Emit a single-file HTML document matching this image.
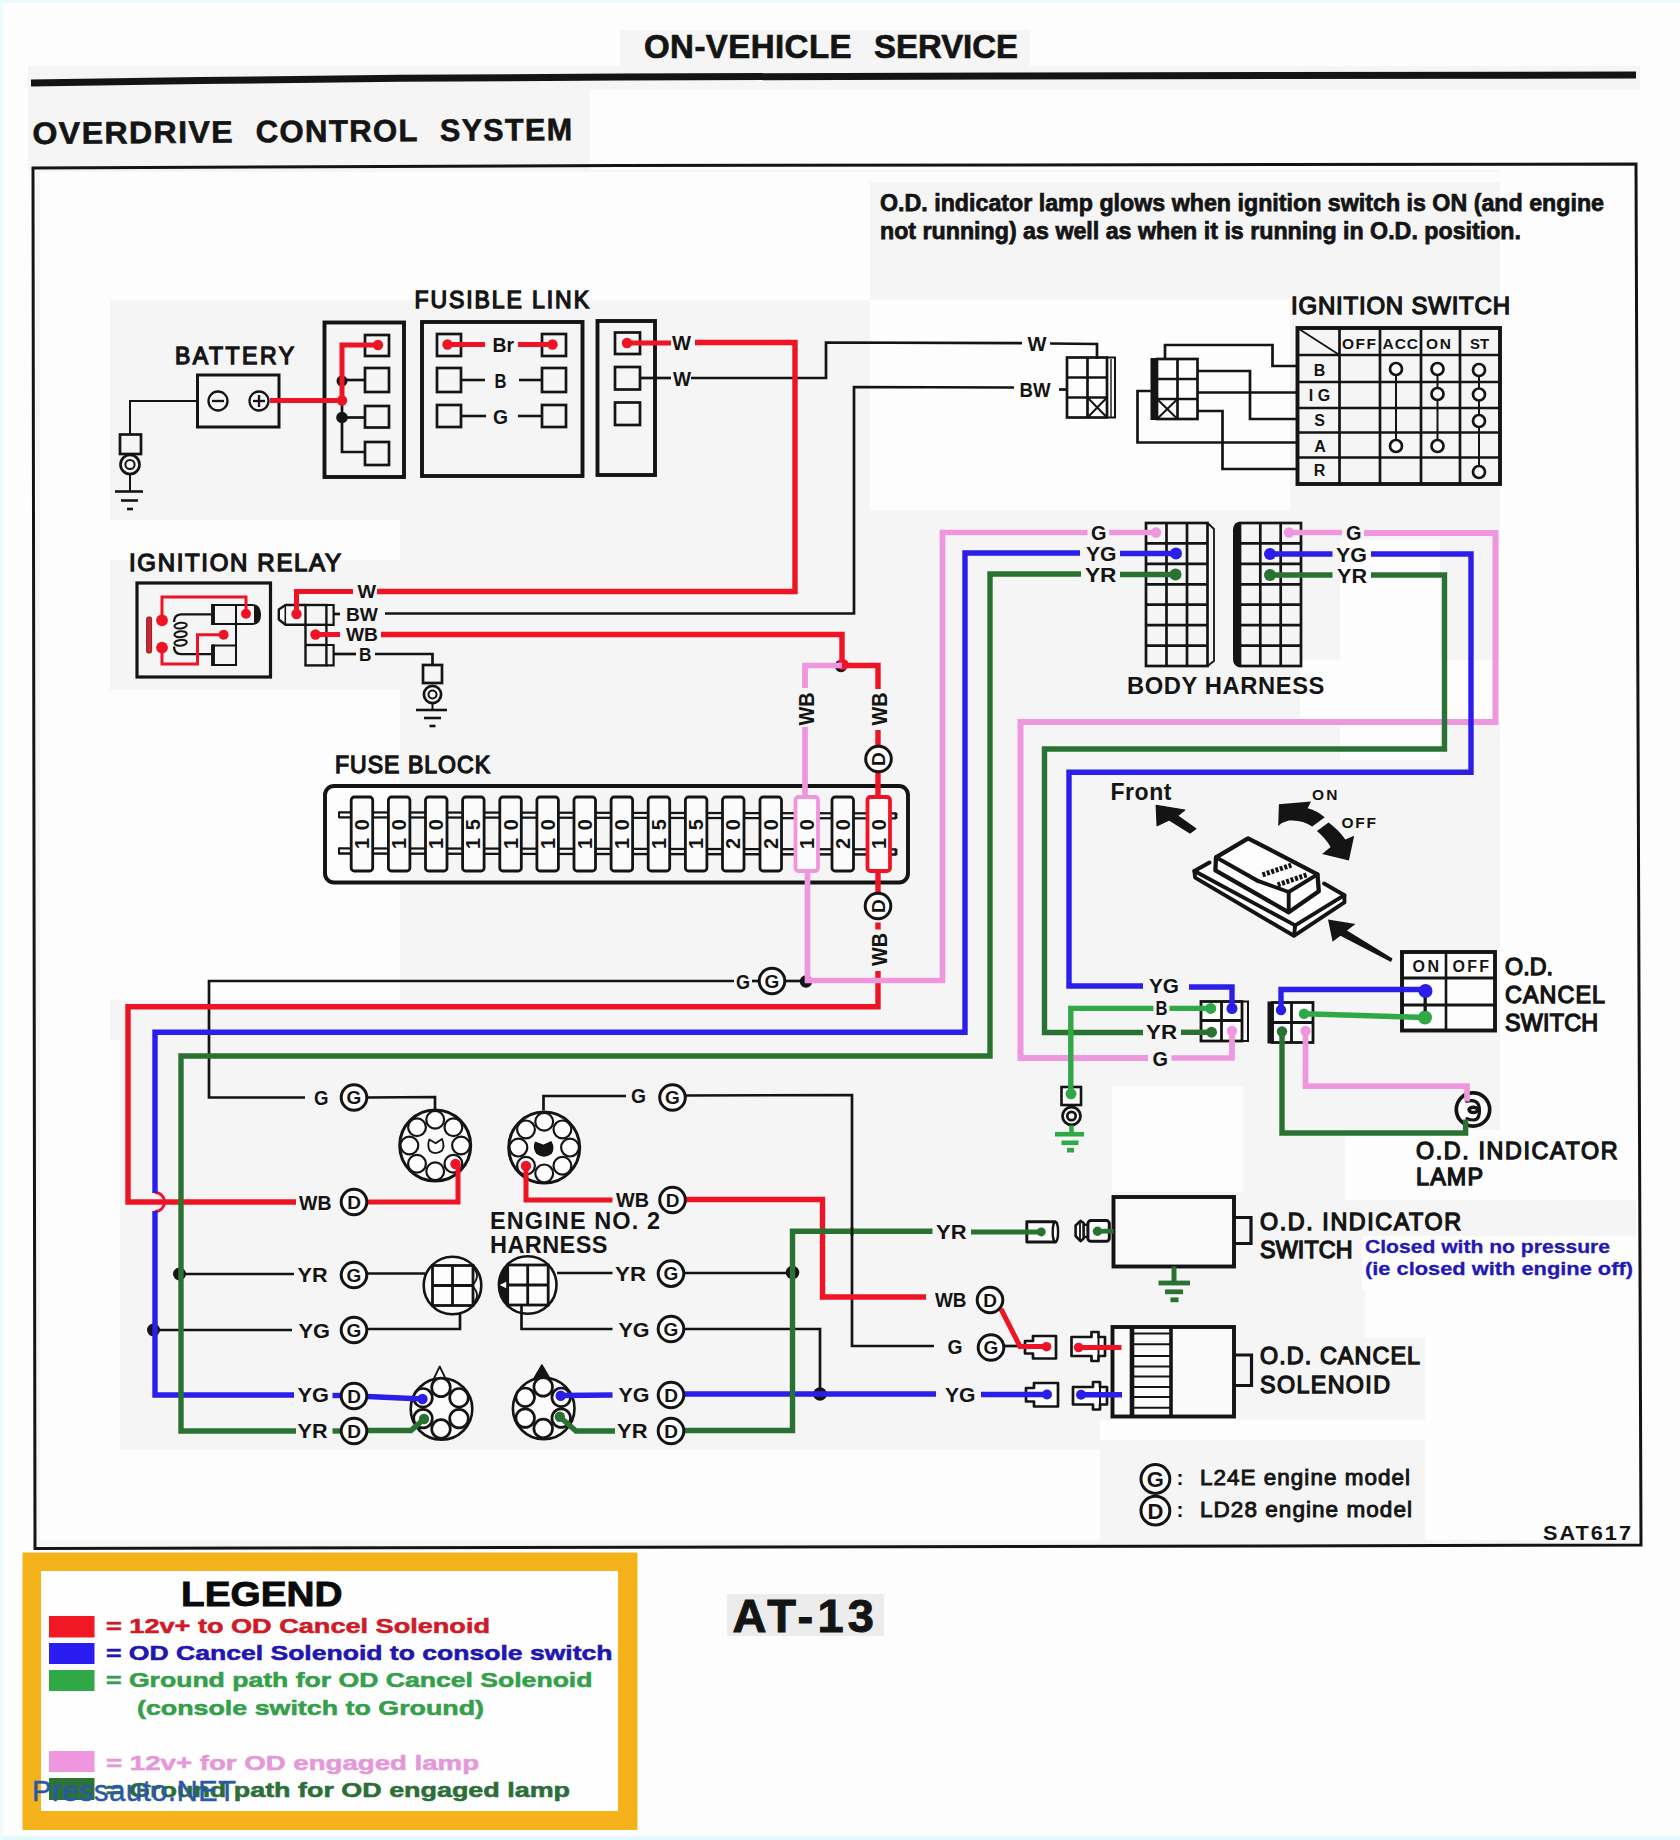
<!DOCTYPE html>
<html><head><meta charset="utf-8"><title>Overdrive Control System</title>
<style>
html,body{margin:0;padding:0;background:#fdfdfd;}
body{width:1680px;height:1840px;overflow:hidden;font-family:"Liberation Sans",sans-serif;}
svg{display:block;font-family:"Liberation Sans",sans-serif;}
</style></head><body>
<svg width="1680" height="1840" viewBox="0 0 1680 1840">
<rect x="0" y="0" width="1680" height="1840" fill="#fdfdfd"/>
<rect x="28" y="66" width="562" height="104" fill="#f5f5f5"/>
<rect x="590" y="66" width="1050" height="24" fill="#f5f5f5"/>
<rect x="620" y="30" width="410" height="36" fill="#f5f5f5"/>
<rect x="36" y="170" width="1600" height="1376" fill="#f5f5f5"/>
<rect x="40" y="172" width="830" height="128" fill="#fdfdfd"/>
<rect x="870" y="172" width="766" height="10" fill="#fdfdfd"/>
<rect x="40" y="300" width="70" height="1240" fill="#fdfdfd"/>
<rect x="110" y="520" width="290" height="40" fill="#fdfdfd"/>
<rect x="110" y="690" width="290" height="310" fill="#fdfdfd"/>
<rect x="870" y="300" width="420" height="210" fill="#fdfdfd"/>
<rect x="1300" y="660" width="200" height="60" fill="#fdfdfd"/>
<rect x="1340" y="540" width="100" height="220" fill="#fdfdfd"/>
<rect x="1345" y="1130" width="291" height="70" fill="#fdfdfd"/>
<rect x="1112" y="1086" width="131" height="106" fill="#fdfdfd"/>
<rect x="1425" y="1290" width="211" height="250" fill="#fdfdfd"/>
<rect x="1362" y="1236" width="274" height="54" fill="#fdfdfd"/>
<rect x="1365" y="1290" width="60" height="48" fill="#fdfdfd"/>
<rect x="1100" y="1420" width="536" height="20" fill="#fdfdfd"/>
<rect x="40" y="1450" width="1060" height="90" fill="#fdfdfd"/>
<rect x="40" y="1040" width="80" height="500" fill="#fdfdfd"/>
<rect x="1500" y="170" width="136" height="960" fill="#fdfdfd"/>
<rect x="0" y="0" width="1680" height="3" fill="#e9fbfd"/>
<rect x="0" y="1836" width="1680" height="4" fill="#e2fafd"/>
<rect x="0" y="0" width="3" height="1840" fill="#ecfbfd"/>
<text x="644.0" y="58.0" font-size="33" fill="#141414" font-weight="bold" textLength="207.5" lengthAdjust="spacing" stroke="#141414" stroke-width="0.7">ON-VEHICLE</text>
<text x="874.0" y="58.0" font-size="33" fill="#141414" font-weight="bold" textLength="144.0" lengthAdjust="spacingAndGlyphs" stroke="#141414" stroke-width="0.7">SERVICE</text>
<polyline points="31.0,83.0 200.0,80.5 400.0,78.3 620.0,77.0 1000.0,76.0 1636.0,75.0" fill="none" stroke="#141414" stroke-width="7" stroke-linecap="butt" stroke-linejoin="miter" />
<g transform="rotate(-0.42 32 144)">
<text x="32.5" y="144.0" font-size="31" fill="#141414" font-weight="bold" textLength="201.5" lengthAdjust="spacingAndGlyphs" letter-spacing="1.3" stroke="#141414" stroke-width="0.6">OVERDRIVE</text>
<text x="255.7" y="144.0" font-size="31" fill="#141414" font-weight="bold" textLength="163.3" lengthAdjust="spacingAndGlyphs" letter-spacing="1.3" stroke="#141414" stroke-width="0.6">CONTROL</text>
<text x="440.0" y="144.0" font-size="31" fill="#141414" font-weight="bold" textLength="133.5" lengthAdjust="spacingAndGlyphs" letter-spacing="1.3" stroke="#141414" stroke-width="0.6">SYSTEM</text>
</g>
<polygon points="33,168 620,165.5 1636,164 1641,1545 1020,1546.5 35,1548.5" fill="none" stroke="#141414" stroke-width="3"/>
<text x="880.0" y="211.3" font-size="24" fill="#141414" font-weight="bold" textLength="724.0" lengthAdjust="spacingAndGlyphs" stroke="#141414" stroke-width="0.75">O.D. indicator lamp glows when ignition switch is ON (and engine</text>
<text x="880.0" y="239.0" font-size="24" fill="#141414" font-weight="bold" textLength="641.0" lengthAdjust="spacingAndGlyphs" stroke="#141414" stroke-width="0.75">not running) as well as when it is running in O.D. position.</text>
<rect x="727" y="1594" width="157" height="42" fill="#ececec"/>
<text x="732.5" y="1632.0" font-size="47" fill="#141414" font-weight="bold" textLength="141.5" lengthAdjust="spacing" stroke="#141414" stroke-width="1.0">AT-13</text>
<text x="175.0" y="363.5" font-size="23" fill="#141414" textLength="119.0" lengthAdjust="spacing" stroke="#141414" stroke-width="1.3">BATTERY</text>
<rect x="197.5" y="375.0" width="81.5" height="52.0" rx="0" fill="none" stroke="#141414" stroke-width="3"/>
<circle cx="218.0" cy="401.0" r="9.5" fill="none" stroke="#141414" stroke-width="2.3"/>
<line x1="212.0" y1="401.0" x2="224.0" y2="401.0" stroke="#141414" stroke-width="2.3" stroke-linecap="butt"/>
<circle cx="259.0" cy="401.0" r="9.5" fill="none" stroke="#141414" stroke-width="2.3"/>
<line x1="253.0" y1="401.0" x2="265.0" y2="401.0" stroke="#141414" stroke-width="2.3" stroke-linecap="butt"/>
<line x1="259.0" y1="395.0" x2="259.0" y2="407.0" stroke="#141414" stroke-width="2.3" stroke-linecap="butt"/>
<polyline points="197.5,401.0 130.0,401.0 130.0,434.0" fill="none" stroke="#141414" stroke-width="2" stroke-linecap="butt" stroke-linejoin="miter" />
<rect x="120.0" y="434.5" width="21.0" height="19.5" rx="0" fill="none" stroke="#141414" stroke-width="2.7"/>
<circle cx="130.0" cy="464.5" r="9.5" fill="none" stroke="#141414" stroke-width="2.7"/>
<circle cx="130.0" cy="464.5" r="4.6" fill="none" stroke="#141414" stroke-width="2"/>
<line x1="130.0" y1="474.0" x2="130.0" y2="491.0" stroke="#141414" stroke-width="2" stroke-linecap="butt"/>
<line x1="115.0" y1="491.5" x2="143.0" y2="491.5" stroke="#141414" stroke-width="2.6" stroke-linecap="butt"/>
<line x1="121.0" y1="500.5" x2="138.0" y2="500.5" stroke="#141414" stroke-width="2.6" stroke-linecap="butt"/>
<line x1="127.0" y1="509.0" x2="133.0" y2="509.0" stroke="#141414" stroke-width="2.6" stroke-linecap="butt"/>
<text x="414.5" y="307.5" font-size="23" fill="#141414" textLength="174.5" lengthAdjust="spacing" stroke="#141414" stroke-width="1.3">FUSIBLE LINK</text>
<rect x="324.5" y="322.5" width="79.5" height="154.5" rx="0" fill="none" stroke="#141414" stroke-width="3.9"/>
<rect x="365.0" y="335.0" width="24.0" height="21.0" rx="0" fill="none" stroke="#141414" stroke-width="2.7"/>
<rect x="365.0" y="368.0" width="24.0" height="24.0" rx="0" fill="none" stroke="#141414" stroke-width="2.7"/>
<rect x="365.0" y="406.0" width="24.0" height="21.5" rx="0" fill="none" stroke="#141414" stroke-width="2.7"/>
<rect x="365.0" y="442.0" width="24.0" height="23.0" rx="0" fill="none" stroke="#141414" stroke-width="2.7"/>
<polyline points="342.0,380.0 342.0,452.0 365.0,452.0" fill="none" stroke="#141414" stroke-width="2.7" stroke-linecap="butt" stroke-linejoin="miter" />
<line x1="342.0" y1="380.0" x2="365.0" y2="380.0" stroke="#141414" stroke-width="2.7" stroke-linecap="butt"/>
<line x1="342.0" y1="417.5" x2="365.0" y2="417.5" stroke="#141414" stroke-width="2.7" stroke-linecap="butt"/>
<circle cx="342.0" cy="381.0" r="5.5" fill="#141414"/>
<circle cx="342.0" cy="417.5" r="5.8" fill="#141414"/>
<rect x="422.0" y="322.0" width="160.5" height="154.0" rx="0" fill="none" stroke="#141414" stroke-width="3.9"/>
<rect x="437.0" y="334.0" width="24.0" height="22.0" rx="0" fill="none" stroke="#141414" stroke-width="2.7"/>
<rect x="542.0" y="334.0" width="24.0" height="22.0" rx="0" fill="none" stroke="#141414" stroke-width="2.7"/>
<rect x="437.0" y="368.0" width="24.0" height="24.0" rx="0" fill="none" stroke="#141414" stroke-width="2.7"/>
<rect x="542.0" y="368.0" width="24.0" height="24.0" rx="0" fill="none" stroke="#141414" stroke-width="2.7"/>
<rect x="437.0" y="405.0" width="24.0" height="22.0" rx="0" fill="none" stroke="#141414" stroke-width="2.7"/>
<rect x="542.0" y="405.0" width="24.0" height="22.0" rx="0" fill="none" stroke="#141414" stroke-width="2.7"/>
<line x1="461.0" y1="380.0" x2="485.0" y2="380.0" stroke="#141414" stroke-width="2.6" stroke-linecap="butt"/>
<line x1="519.0" y1="380.0" x2="542.0" y2="380.0" stroke="#141414" stroke-width="2.6" stroke-linecap="butt"/>
<line x1="461.0" y1="416.0" x2="486.0" y2="416.0" stroke="#141414" stroke-width="2.6" stroke-linecap="butt"/>
<line x1="518.0" y1="416.0" x2="542.0" y2="416.0" stroke="#141414" stroke-width="2.6" stroke-linecap="butt"/>
<rect x="597.5" y="321.0" width="57.5" height="154.0" rx="0" fill="none" stroke="#141414" stroke-width="3.9"/>
<rect x="615.0" y="332.5" width="25.0" height="21.5" rx="0" fill="none" stroke="#141414" stroke-width="2.7"/>
<rect x="615.0" y="367.0" width="25.0" height="22.5" rx="0" fill="none" stroke="#141414" stroke-width="2.7"/>
<rect x="615.0" y="402.5" width="25.0" height="22.5" rx="0" fill="none" stroke="#141414" stroke-width="2.7"/>
<line x1="640.0" y1="378.0" x2="671.0" y2="378.0" stroke="#141414" stroke-width="2.7" stroke-linecap="butt"/>
<polyline points="691.0,378.0 826.0,378.0 826.0,342.5 1022.0,343.2" fill="none" stroke="#141414" stroke-width="2.7" stroke-linecap="butt" stroke-linejoin="miter" />
<polyline points="1050.0,343.5 1097.0,344.0 1097.0,359.0" fill="none" stroke="#141414" stroke-width="2.7" stroke-linecap="butt" stroke-linejoin="miter" />
<polyline points="1014.0,387.5 854.0,387.0 854.0,613.5 385.0,613.5" fill="none" stroke="#141414" stroke-width="2.7" stroke-linecap="butt" stroke-linejoin="miter" />
<line x1="1059.0" y1="389.5" x2="1067.0" y2="389.5" stroke="#141414" stroke-width="2.7" stroke-linecap="butt"/>
<rect x="1067.0" y="357.5" width="40.0" height="60.0" rx="0" fill="none" stroke="#141414" stroke-width="2.7"/>
<line x1="1087.5" y1="357.5" x2="1087.5" y2="417.5" stroke="#141414" stroke-width="2.7" stroke-linecap="butt"/>
<line x1="1067.0" y1="377.5" x2="1107.0" y2="377.5" stroke="#141414" stroke-width="2.7" stroke-linecap="butt"/>
<line x1="1067.0" y1="397.5" x2="1107.0" y2="397.5" stroke="#141414" stroke-width="2.7" stroke-linecap="butt"/>
<polyline points="1107.0,357.5 1115.0,357.5 1115.0,417.5 1107.0,417.5" fill="none" stroke="#141414" stroke-width="2" stroke-linecap="butt" stroke-linejoin="miter" />
<line x1="1111.0" y1="359.0" x2="1111.0" y2="417.0" stroke="#141414" stroke-width="1.4" stroke-linecap="butt"/>
<line x1="1087.5" y1="397.5" x2="1107.0" y2="417.5" stroke="#141414" stroke-width="2" stroke-linecap="butt"/>
<line x1="1107.0" y1="397.5" x2="1087.5" y2="417.5" stroke="#141414" stroke-width="2" stroke-linecap="butt"/>
<rect x="1157.0" y="359.0" width="40.5" height="60.0" rx="0" fill="none" stroke="#141414" stroke-width="2.7"/>
<line x1="1177.5" y1="359.0" x2="1177.5" y2="419.0" stroke="#141414" stroke-width="2.7" stroke-linecap="butt"/>
<line x1="1157.0" y1="379.0" x2="1197.5" y2="379.0" stroke="#141414" stroke-width="2.7" stroke-linecap="butt"/>
<line x1="1157.0" y1="399.0" x2="1197.5" y2="399.0" stroke="#141414" stroke-width="2.7" stroke-linecap="butt"/>
<rect x="1150.5" y="358" width="7" height="62" fill="#141414"/>
<line x1="1157.0" y1="399.0" x2="1177.5" y2="419.0" stroke="#141414" stroke-width="2" stroke-linecap="butt"/>
<line x1="1177.5" y1="399.0" x2="1157.0" y2="419.0" stroke="#141414" stroke-width="2" stroke-linecap="butt"/>
<polyline points="1165.0,359.0 1165.0,345.0 1272.5,345.0 1272.5,366.0 1297.5,366.0" fill="none" stroke="#141414" stroke-width="2.7" stroke-linecap="butt" stroke-linejoin="miter" />
<polyline points="1197.5,371.0 1250.0,371.0 1250.0,419.0 1297.5,419.0" fill="none" stroke="#141414" stroke-width="2.7" stroke-linecap="butt" stroke-linejoin="miter" />
<line x1="1197.5" y1="392.5" x2="1297.5" y2="392.5" stroke="#141414" stroke-width="2.7" stroke-linecap="butt"/>
<polyline points="1197.5,411.0 1222.5,411.0 1222.5,469.0 1297.5,469.0" fill="none" stroke="#141414" stroke-width="2.7" stroke-linecap="butt" stroke-linejoin="miter" />
<polyline points="1151.0,391.0 1137.5,391.0 1137.5,442.5 1297.5,442.5" fill="none" stroke="#141414" stroke-width="2.7" stroke-linecap="butt" stroke-linejoin="miter" />
<text x="1291.0" y="314.0" font-size="24" fill="#141414" textLength="219.0" lengthAdjust="spacing" stroke="#141414" stroke-width="1.3">IGNITION SWITCH</text>
<rect x="1297.5" y="328.0" width="202.5" height="156.0" rx="0" fill="none" stroke="#141414" stroke-width="3.9"/>
<line x1="1339.5" y1="328.0" x2="1339.5" y2="484.0" stroke="#141414" stroke-width="2.7" stroke-linecap="butt"/>
<line x1="1380.0" y1="328.0" x2="1380.0" y2="484.0" stroke="#141414" stroke-width="2.7" stroke-linecap="butt"/>
<line x1="1421.0" y1="328.0" x2="1421.0" y2="484.0" stroke="#141414" stroke-width="2.7" stroke-linecap="butt"/>
<line x1="1460.0" y1="328.0" x2="1460.0" y2="484.0" stroke="#141414" stroke-width="2.7" stroke-linecap="butt"/>
<line x1="1297.5" y1="355.0" x2="1500.0" y2="355.0" stroke="#141414" stroke-width="2.7" stroke-linecap="butt"/>
<line x1="1297.5" y1="382.0" x2="1500.0" y2="382.0" stroke="#141414" stroke-width="2.7" stroke-linecap="butt"/>
<line x1="1297.5" y1="408.0" x2="1500.0" y2="408.0" stroke="#141414" stroke-width="2.7" stroke-linecap="butt"/>
<line x1="1297.5" y1="432.5" x2="1500.0" y2="432.5" stroke="#141414" stroke-width="2.7" stroke-linecap="butt"/>
<line x1="1297.5" y1="457.5" x2="1500.0" y2="457.5" stroke="#141414" stroke-width="2.7" stroke-linecap="butt"/>
<line x1="1297.5" y1="328.0" x2="1339.5" y2="355.0" stroke="#141414" stroke-width="1.8" stroke-linecap="butt"/>
<text x="1342.0" y="348.5" font-size="15.5" fill="#141414" font-weight="bold" textLength="34.0" lengthAdjust="spacing">OFF</text>
<text x="1382.5" y="348.5" font-size="15.5" fill="#141414" font-weight="bold" textLength="35.5" lengthAdjust="spacing">ACC</text>
<text x="1426.0" y="348.5" font-size="15.5" fill="#141414" font-weight="bold" textLength="25.0" lengthAdjust="spacing">ON</text>
<text x="1470.0" y="348.5" font-size="15.5" fill="#141414" font-weight="bold" textLength="19.0" lengthAdjust="spacingAndGlyphs">ST</text>
<text x="1319.5" y="375.5" font-size="16" fill="#141414" font-weight="bold" text-anchor="middle">B</text>
<text x="1319.5" y="400.5" font-size="16" fill="#141414" font-weight="bold" text-anchor="middle">I G</text>
<text x="1319.5" y="425.5" font-size="16" fill="#141414" font-weight="bold" text-anchor="middle">S</text>
<text x="1320.0" y="451.5" font-size="16" fill="#141414" font-weight="bold" text-anchor="middle">A</text>
<text x="1319.5" y="476.0" font-size="16" fill="#141414" font-weight="bold" text-anchor="middle">R</text>
<line x1="1396.0" y1="369.0" x2="1396.0" y2="446.0" stroke="#141414" stroke-width="2" stroke-linecap="butt"/>
<circle cx="1396.0" cy="369.0" r="6" fill="#fdfdfd" stroke="#141414" stroke-width="2.7"/>
<circle cx="1396.0" cy="446.0" r="6" fill="#fdfdfd" stroke="#141414" stroke-width="2.7"/>
<line x1="1437.5" y1="369.0" x2="1437.5" y2="446.0" stroke="#141414" stroke-width="2" stroke-linecap="butt"/>
<circle cx="1437.5" cy="369.0" r="6" fill="#fdfdfd" stroke="#141414" stroke-width="2.7"/>
<circle cx="1437.5" cy="394.0" r="6" fill="#fdfdfd" stroke="#141414" stroke-width="2.7"/>
<circle cx="1437.5" cy="446.0" r="6" fill="#fdfdfd" stroke="#141414" stroke-width="2.7"/>
<line x1="1479.0" y1="370.0" x2="1479.0" y2="472.0" stroke="#141414" stroke-width="2" stroke-linecap="butt"/>
<circle cx="1479.0" cy="370.0" r="6" fill="#fdfdfd" stroke="#141414" stroke-width="2.7"/>
<circle cx="1479.0" cy="394.5" r="6" fill="#fdfdfd" stroke="#141414" stroke-width="2.7"/>
<circle cx="1479.0" cy="421.0" r="6" fill="#fdfdfd" stroke="#141414" stroke-width="2.7"/>
<circle cx="1479.0" cy="472.0" r="6" fill="#fdfdfd" stroke="#141414" stroke-width="2.7"/>
<rect x="1146.0" y="523.0" width="61.5" height="143.0" rx="0" fill="none" stroke="#141414" stroke-width="2.7"/>
<line x1="1166.5" y1="523.0" x2="1166.5" y2="666.0" stroke="#141414" stroke-width="2.7" stroke-linecap="butt"/>
<line x1="1187.0" y1="523.0" x2="1187.0" y2="666.0" stroke="#141414" stroke-width="2.7" stroke-linecap="butt"/>
<line x1="1146.0" y1="543.4" x2="1207.5" y2="543.4" stroke="#141414" stroke-width="2.7" stroke-linecap="butt"/>
<line x1="1146.0" y1="563.9" x2="1207.5" y2="563.9" stroke="#141414" stroke-width="2.7" stroke-linecap="butt"/>
<line x1="1146.0" y1="584.3" x2="1207.5" y2="584.3" stroke="#141414" stroke-width="2.7" stroke-linecap="butt"/>
<line x1="1146.0" y1="604.7" x2="1207.5" y2="604.7" stroke="#141414" stroke-width="2.7" stroke-linecap="butt"/>
<line x1="1146.0" y1="625.1" x2="1207.5" y2="625.1" stroke="#141414" stroke-width="2.7" stroke-linecap="butt"/>
<line x1="1146.0" y1="645.6" x2="1207.5" y2="645.6" stroke="#141414" stroke-width="2.7" stroke-linecap="butt"/>
<polyline points="1207.5,523.0 1214.0,529.0 1214.0,661.0 1207.5,666.0" fill="none" stroke="#141414" stroke-width="1.8" stroke-linecap="butt" stroke-linejoin="miter" />
<rect x="1240.0" y="523.0" width="61.0" height="143.0" rx="0" fill="none" stroke="#141414" stroke-width="2.7"/>
<line x1="1260.3" y1="523.0" x2="1260.3" y2="666.0" stroke="#141414" stroke-width="2.7" stroke-linecap="butt"/>
<line x1="1280.7" y1="523.0" x2="1280.7" y2="666.0" stroke="#141414" stroke-width="2.7" stroke-linecap="butt"/>
<line x1="1240.0" y1="543.4" x2="1301.0" y2="543.4" stroke="#141414" stroke-width="2.7" stroke-linecap="butt"/>
<line x1="1240.0" y1="563.9" x2="1301.0" y2="563.9" stroke="#141414" stroke-width="2.7" stroke-linecap="butt"/>
<line x1="1240.0" y1="584.3" x2="1301.0" y2="584.3" stroke="#141414" stroke-width="2.7" stroke-linecap="butt"/>
<line x1="1240.0" y1="604.7" x2="1301.0" y2="604.7" stroke="#141414" stroke-width="2.7" stroke-linecap="butt"/>
<line x1="1240.0" y1="625.1" x2="1301.0" y2="625.1" stroke="#141414" stroke-width="2.7" stroke-linecap="butt"/>
<line x1="1240.0" y1="645.6" x2="1301.0" y2="645.6" stroke="#141414" stroke-width="2.7" stroke-linecap="butt"/>
<path d="M1241,522 L1238,522 Q1233,524 1233,530 L1233,659 Q1233,665 1238,667 L1241,667 Z" fill="#141414"/>
<text x="1127.0" y="694.0" font-size="23.5" fill="#141414" font-weight="bold" textLength="198.0" lengthAdjust="spacingAndGlyphs" letter-spacing="0.6">BODY HARNESS</text>
<text x="129.0" y="571.0" font-size="24" fill="#141414" textLength="212.0" lengthAdjust="spacing" stroke="#141414" stroke-width="1.3">IGNITION RELAY</text>
<rect x="137.0" y="583.0" width="133.5" height="94.0" rx="0" fill="none" stroke="#141414" stroke-width="3.2"/>
<rect x="213.0" y="605.0" width="23.0" height="19.0" rx="0" fill="none" stroke="#141414" stroke-width="2"/>
<rect x="213.0" y="645.5" width="23.0" height="19.5" rx="0" fill="none" stroke="#141414" stroke-width="2"/>
<line x1="236.0" y1="605.0" x2="236.0" y2="665.0" stroke="#141414" stroke-width="2" stroke-linecap="butt"/>
<line x1="213.0" y1="604.0" x2="213.0" y2="625.0" stroke="#141414" stroke-width="3.9" stroke-linecap="butt"/>
<line x1="213.0" y1="644.5" x2="213.0" y2="666.0" stroke="#141414" stroke-width="3.9" stroke-linecap="butt"/>
<path d="M236,605 L252,605 Q260,605 260,614.5 Q260,624 252,624 L236,624" fill="none" stroke="#141414" stroke-width="2"/>
<path d="M254,606 Q260.5,607 260.5,614.5 Q260.5,622 254,623 Z" fill="#141414"/>
<path d="M211,614.3 L181,614.3 Q174,614.8 174,622 M211,654.2 L181,654.2 Q174,653.7 174,646.4" fill="none" stroke="#141414" stroke-width="2.3" />
<ellipse cx="180.6" cy="625.6" rx="6.2" ry="2.9" fill="none" stroke="#141414" stroke-width="2" transform="rotate(-6 180.6 625.6)"/>
<ellipse cx="180.6" cy="634.2" rx="6.2" ry="2.9" fill="none" stroke="#141414" stroke-width="2" transform="rotate(-6 180.6 634.2)"/>
<ellipse cx="180.6" cy="642.8" rx="6.2" ry="2.9" fill="none" stroke="#141414" stroke-width="2" transform="rotate(-6 180.6 642.8)"/>
<path d="M305.5,605 L285.5,605 L278.8,609.5 L278.8,619.5 L285.5,624.8 L305.5,624.8" fill="#fbfbfb" stroke="#141414" stroke-width="2.4" stroke-linejoin="round"/>
<line x1="285.3" y1="606.0" x2="285.3" y2="624.0" stroke="#141414" stroke-width="1.6" stroke-linecap="butt"/>
<rect x="305.5" y="605.0" width="20.9" height="60.4" rx="0" fill="none" stroke="#141414" stroke-width="2.4"/>
<line x1="305.5" y1="624.8" x2="326.4" y2="624.8" stroke="#141414" stroke-width="2.4" stroke-linecap="butt"/>
<line x1="305.5" y1="645.0" x2="326.4" y2="645.0" stroke="#141414" stroke-width="2.4" stroke-linecap="butt"/>
<polyline points="326.4,605.0 333.6,605.0 333.6,624.8 326.4,624.8" fill="none" stroke="#141414" stroke-width="2.2" stroke-linecap="butt" stroke-linejoin="miter" />
<polyline points="326.4,645.0 333.6,645.0 333.6,665.4 326.4,665.4" fill="none" stroke="#141414" stroke-width="2.2" stroke-linecap="butt" stroke-linejoin="miter" />
<line x1="333.6" y1="614.0" x2="340.0" y2="614.0" stroke="#141414" stroke-width="2.7" stroke-linecap="butt"/>
<line x1="333.6" y1="654.0" x2="356.0" y2="654.0" stroke="#141414" stroke-width="2.7" stroke-linecap="butt"/>
<polyline points="375.0,654.0 432.5,654.0 432.5,665.0" fill="none" stroke="#141414" stroke-width="2.7" stroke-linecap="butt" stroke-linejoin="miter" />
<rect x="423.0" y="665.0" width="19.0" height="18.0" rx="0" fill="none" stroke="#141414" stroke-width="2.7"/>
<circle cx="432.5" cy="694.5" r="8.6" fill="none" stroke="#141414" stroke-width="2.7"/>
<circle cx="432.5" cy="694.5" r="4" fill="none" stroke="#141414" stroke-width="2"/>
<line x1="432.5" y1="703.0" x2="432.5" y2="709.5" stroke="#141414" stroke-width="2" stroke-linecap="butt"/>
<line x1="416.0" y1="710.0" x2="447.0" y2="710.0" stroke="#141414" stroke-width="2.6" stroke-linecap="butt"/>
<line x1="424.0" y1="718.0" x2="441.0" y2="718.0" stroke="#141414" stroke-width="2.6" stroke-linecap="butt"/>
<line x1="429.5" y1="726.0" x2="435.5" y2="726.0" stroke="#141414" stroke-width="2.6" stroke-linecap="butt"/>
<text x="335.0" y="773.0" font-size="23" fill="#141414" textLength="155.0" lengthAdjust="spacing" stroke="#141414" stroke-width="1.3">FUSE BLOCK</text>
<rect x="325.0" y="786.0" width="583.0" height="96.5" rx="9" fill="none" stroke="#141414" stroke-width="3.9"/>
<line x1="339.0" y1="812.3" x2="896.0" y2="813.3" stroke="#141414" stroke-width="2.3" stroke-linecap="butt"/>
<line x1="339.0" y1="817.3" x2="896.0" y2="818.3" stroke="#141414" stroke-width="2.3" stroke-linecap="butt"/>
<line x1="339.0" y1="848.3" x2="896.0" y2="849.3" stroke="#141414" stroke-width="2.3" stroke-linecap="butt"/>
<line x1="339.0" y1="853.5" x2="896.0" y2="854.5" stroke="#141414" stroke-width="2.3" stroke-linecap="butt"/>
<line x1="339.0" y1="811.6" x2="339.0" y2="817.9" stroke="#141414" stroke-width="2" stroke-linecap="butt"/>
<line x1="339.0" y1="847.6" x2="339.0" y2="854.4" stroke="#141414" stroke-width="2" stroke-linecap="butt"/>
<line x1="896.0" y1="812.6" x2="896.0" y2="818.9" stroke="#141414" stroke-width="2.8" stroke-linecap="butt"/>
<line x1="896.0" y1="848.6" x2="896.0" y2="855.4" stroke="#141414" stroke-width="2.8" stroke-linecap="butt"/>
<rect x="351.2" y="797.0" width="21.5" height="74.0" rx="3" fill="#fbfbfb" stroke="#141414" stroke-width="2.8"/>
<text x="362.0" y="834.0" font-size="20" font-weight="bold" fill="#141414" text-anchor="middle" textLength="30" lengthAdjust="spacing" transform="rotate(-90 362.0 834) translate(0 7)">10</text>
<rect x="388.4" y="797.0" width="21.5" height="74.0" rx="3" fill="#fbfbfb" stroke="#141414" stroke-width="2.8"/>
<text x="399.1" y="834.0" font-size="20" font-weight="bold" fill="#141414" text-anchor="middle" textLength="30" lengthAdjust="spacing" transform="rotate(-90 399.1 834) translate(0 7)">10</text>
<rect x="425.5" y="797.0" width="21.5" height="74.0" rx="3" fill="#fbfbfb" stroke="#141414" stroke-width="2.8"/>
<text x="436.2" y="834.0" font-size="20" font-weight="bold" fill="#141414" text-anchor="middle" textLength="30" lengthAdjust="spacing" transform="rotate(-90 436.2 834) translate(0 7)">10</text>
<rect x="462.6" y="797.0" width="21.5" height="74.0" rx="3" fill="#fbfbfb" stroke="#141414" stroke-width="2.8"/>
<text x="473.4" y="834.0" font-size="20" font-weight="bold" fill="#141414" text-anchor="middle" textLength="30" lengthAdjust="spacing" transform="rotate(-90 473.4 834) translate(0 7)">15</text>
<rect x="499.8" y="797.0" width="21.5" height="74.0" rx="3" fill="#fbfbfb" stroke="#141414" stroke-width="2.8"/>
<text x="510.5" y="834.0" font-size="20" font-weight="bold" fill="#141414" text-anchor="middle" textLength="30" lengthAdjust="spacing" transform="rotate(-90 510.5 834) translate(0 7)">10</text>
<rect x="536.9" y="797.0" width="21.5" height="74.0" rx="3" fill="#fbfbfb" stroke="#141414" stroke-width="2.8"/>
<text x="547.6" y="834.0" font-size="20" font-weight="bold" fill="#141414" text-anchor="middle" textLength="30" lengthAdjust="spacing" transform="rotate(-90 547.6 834) translate(0 7)">10</text>
<rect x="574.0" y="797.0" width="21.5" height="74.0" rx="3" fill="#fbfbfb" stroke="#141414" stroke-width="2.8"/>
<text x="584.8" y="834.0" font-size="20" font-weight="bold" fill="#141414" text-anchor="middle" textLength="30" lengthAdjust="spacing" transform="rotate(-90 584.8 834) translate(0 7)">10</text>
<rect x="611.1" y="797.0" width="21.5" height="74.0" rx="3" fill="#fbfbfb" stroke="#141414" stroke-width="2.8"/>
<text x="621.9" y="834.0" font-size="20" font-weight="bold" fill="#141414" text-anchor="middle" textLength="30" lengthAdjust="spacing" transform="rotate(-90 621.9 834) translate(0 7)">10</text>
<rect x="648.2" y="797.0" width="21.5" height="74.0" rx="3" fill="#fbfbfb" stroke="#141414" stroke-width="2.8"/>
<text x="659.0" y="834.0" font-size="20" font-weight="bold" fill="#141414" text-anchor="middle" textLength="30" lengthAdjust="spacing" transform="rotate(-90 659.0 834) translate(0 7)">15</text>
<rect x="685.4" y="797.0" width="21.5" height="74.0" rx="3" fill="#fbfbfb" stroke="#141414" stroke-width="2.8"/>
<text x="696.1" y="834.0" font-size="20" font-weight="bold" fill="#141414" text-anchor="middle" textLength="30" lengthAdjust="spacing" transform="rotate(-90 696.1 834) translate(0 7)">15</text>
<rect x="722.5" y="797.0" width="21.5" height="74.0" rx="3" fill="#fbfbfb" stroke="#141414" stroke-width="2.8"/>
<text x="733.2" y="834.0" font-size="20" font-weight="bold" fill="#141414" text-anchor="middle" textLength="30" lengthAdjust="spacing" transform="rotate(-90 733.2 834) translate(0 7)">20</text>
<rect x="760.0" y="797.0" width="21.5" height="74.0" rx="3" fill="#fbfbfb" stroke="#141414" stroke-width="2.8"/>
<text x="770.8" y="834.0" font-size="20" font-weight="bold" fill="#141414" text-anchor="middle" textLength="30" lengthAdjust="spacing" transform="rotate(-90 770.8 834) translate(0 7)">20</text>
<rect x="795.5" y="797.0" width="22.5" height="74.0" rx="3" fill="#fbfbfb" stroke="#ee96de" stroke-width="3.8"/>
<text x="806.8" y="834.0" font-size="20" font-weight="bold" fill="#141414" text-anchor="middle" textLength="30" lengthAdjust="spacing" transform="rotate(-90 806.8 834) translate(0 7)">10</text>
<rect x="832.0" y="797.0" width="21.5" height="74.0" rx="3" fill="#fbfbfb" stroke="#141414" stroke-width="2.8"/>
<text x="842.8" y="834.0" font-size="20" font-weight="bold" fill="#141414" text-anchor="middle" textLength="30" lengthAdjust="spacing" transform="rotate(-90 842.8 834) translate(0 7)">20</text>
<rect x="867.5" y="797.0" width="22.5" height="74.0" rx="3" fill="#fbfbfb" stroke="#ee1426" stroke-width="3.8"/>
<text x="878.8" y="834.0" font-size="20" font-weight="bold" fill="#141414" text-anchor="middle" textLength="30" lengthAdjust="spacing" transform="rotate(-90 878.8 834) translate(0 7)">10</text>
<polyline points="734.0,981.0 209.0,981.0 209.0,1097.5 305.0,1097.5" fill="none" stroke="#141414" stroke-width="2.7" stroke-linecap="butt" stroke-linejoin="miter" />
<line x1="752.0" y1="981.0" x2="760.0" y2="981.0" stroke="#141414" stroke-width="2.7" stroke-linecap="butt"/>
<line x1="784.0" y1="981.0" x2="806.0" y2="981.0" stroke="#141414" stroke-width="2.7" stroke-linecap="butt"/>
<circle cx="806.0" cy="981.5" r="6.2" fill="#141414"/>
<circle cx="841.0" cy="666.0" r="6.2" fill="#141414"/>
<circle cx="435.2" cy="1145.5" r="35.5" fill="#fbfbfb" stroke="#141414" stroke-width="3.0"/>
<circle cx="435.2" cy="1119.7" r="8.9" fill="#fdfdfd" stroke="#141414" stroke-width="2.2"/>
<circle cx="453.4" cy="1127.3" r="8.9" fill="#fdfdfd" stroke="#141414" stroke-width="2.2"/>
<circle cx="461.0" cy="1145.5" r="8.9" fill="#fdfdfd" stroke="#141414" stroke-width="2.2"/>
<circle cx="453.4" cy="1163.7" r="8.9" fill="#fdfdfd" stroke="#141414" stroke-width="2.2"/>
<circle cx="435.2" cy="1171.3" r="8.9" fill="#fdfdfd" stroke="#141414" stroke-width="2.2"/>
<circle cx="417.0" cy="1163.7" r="8.9" fill="#fdfdfd" stroke="#141414" stroke-width="2.2"/>
<circle cx="409.4" cy="1145.5" r="8.9" fill="#fdfdfd" stroke="#141414" stroke-width="2.2"/>
<circle cx="417.0" cy="1127.3" r="8.9" fill="#fdfdfd" stroke="#141414" stroke-width="2.2"/>
<circle cx="544.2" cy="1147.6" r="35.5" fill="#fbfbfb" stroke="#141414" stroke-width="3.0"/>
<circle cx="544.2" cy="1121.8" r="8.9" fill="#fdfdfd" stroke="#141414" stroke-width="2.2"/>
<circle cx="562.4" cy="1129.4" r="8.9" fill="#fdfdfd" stroke="#141414" stroke-width="2.2"/>
<circle cx="570.0" cy="1147.6" r="8.9" fill="#fdfdfd" stroke="#141414" stroke-width="2.2"/>
<circle cx="562.4" cy="1165.8" r="8.9" fill="#fdfdfd" stroke="#141414" stroke-width="2.2"/>
<circle cx="544.2" cy="1173.4" r="8.9" fill="#fdfdfd" stroke="#141414" stroke-width="2.2"/>
<circle cx="526.0" cy="1165.8" r="8.9" fill="#fdfdfd" stroke="#141414" stroke-width="2.2"/>
<circle cx="518.4" cy="1147.6" r="8.9" fill="#fdfdfd" stroke="#141414" stroke-width="2.2"/>
<circle cx="526.0" cy="1129.4" r="8.9" fill="#fdfdfd" stroke="#141414" stroke-width="2.2"/>
<path d="M429.3,1139.5 L435.7,1143.3 L442,1139 Q445,1146 442,1150.5 Q436,1155.5 430,1151 Q427,1146 429.3,1139.5 Z" fill="none" stroke="#141414" stroke-width="1.8" stroke-linejoin="round"/>
<path d="M535.5,1142.3 L543.5,1145.3 L551,1141.8 Q554.5,1148 551,1153.5 Q544,1158.5 537,1153.5 Q533,1148 535.5,1142.3 Z" fill="#141414" stroke="#141414" stroke-width="1.4" stroke-linejoin="round"/>
<polyline points="367.0,1097.5 435.0,1097.0 435.0,1109.0" fill="none" stroke="#141414" stroke-width="2.7" stroke-linecap="butt" stroke-linejoin="miter" />
<polyline points="543.5,1110.5 543.5,1096.0 626.0,1096.0" fill="none" stroke="#141414" stroke-width="2.7" stroke-linecap="butt" stroke-linejoin="miter" />
<polyline points="685.0,1095.5 852.0,1095.0 852.0,1346.0 934.0,1346.0" fill="none" stroke="#141414" stroke-width="2.7" stroke-linecap="butt" stroke-linejoin="miter" />
<line x1="1004.0" y1="1346.0" x2="1021.0" y2="1346.0" stroke="#141414" stroke-width="2.7" stroke-linecap="butt"/>
<circle cx="179.5" cy="1274.0" r="6.5" fill="#141414"/>
<circle cx="153.5" cy="1330.0" r="6.5" fill="#141414"/>
<line x1="181.0" y1="1274.0" x2="294.0" y2="1274.0" stroke="#141414" stroke-width="2.7" stroke-linecap="butt"/>
<line x1="367.0" y1="1273.5" x2="425.0" y2="1273.5" stroke="#141414" stroke-width="2.7" stroke-linecap="butt"/>
<line x1="155.0" y1="1330.0" x2="292.0" y2="1330.0" stroke="#141414" stroke-width="2.7" stroke-linecap="butt"/>
<polyline points="367.0,1329.0 460.0,1329.0 460.0,1305.0" fill="none" stroke="#141414" stroke-width="2.7" stroke-linecap="butt" stroke-linejoin="miter" />
<circle cx="452.5" cy="1285.5" r="28.8" fill="#fbfbfb" stroke="#141414" stroke-width="2.6"/>
<rect x="432.5" y="1265.5" width="40.5" height="40.0" rx="0" fill="#fdfdfd" stroke="#141414" stroke-width="2.8"/>
<line x1="452.5" y1="1265.5" x2="452.5" y2="1305.5" stroke="#141414" stroke-width="2.8" stroke-linecap="butt"/>
<line x1="432.5" y1="1285.5" x2="473.0" y2="1285.5" stroke="#141414" stroke-width="2.8" stroke-linecap="butt"/>
<path d="M473.0,1267.5 Q481.0,1275.5 473.0,1284.5 M473.0,1286.5 Q481.0,1295.5 473.0,1303.5" fill="none" stroke="#141414" stroke-width="1.8" />
<circle cx="527.7" cy="1285.0" r="28.8" fill="#fbfbfb" stroke="#141414" stroke-width="2.6"/>
<path d="M507.70000000000005,1265 A28.8,28.8 0 0 0 507.70000000000005,1305 Z" fill="#141414"/>
<path d="M499.70000000000005,1285 L506.70000000000005,1281.5 L506.70000000000005,1288.5 Z" fill="#fbfbfb"/>
<rect x="507.7" y="1265.0" width="40.5" height="40.0" rx="0" fill="#fdfdfd" stroke="#141414" stroke-width="2.8"/>
<line x1="527.7" y1="1265.0" x2="527.7" y2="1305.0" stroke="#141414" stroke-width="2.8" stroke-linecap="butt"/>
<line x1="507.7" y1="1285.0" x2="548.2" y2="1285.0" stroke="#141414" stroke-width="2.8" stroke-linecap="butt"/>
<line x1="557.0" y1="1273.0" x2="612.5" y2="1273.0" stroke="#141414" stroke-width="2.7" stroke-linecap="butt"/>
<polyline points="521.5,1305.0 521.5,1329.0 612.5,1329.0" fill="none" stroke="#141414" stroke-width="2.7" stroke-linecap="butt" stroke-linejoin="miter" />
<line x1="685.0" y1="1273.0" x2="792.0" y2="1273.0" stroke="#141414" stroke-width="2.7" stroke-linecap="butt"/>
<circle cx="792.5" cy="1272.5" r="6.8" fill="#141414"/>
<polyline points="685.0,1329.0 820.0,1329.0 820.0,1394.0" fill="none" stroke="#141414" stroke-width="2.7" stroke-linecap="butt" stroke-linejoin="miter" />
<circle cx="820.0" cy="1394.0" r="6.8" fill="#141414"/>
<path d="M439.7,1366.5 L433.2,1380 L446.2,1380 Z" fill="#fdfdfd" stroke="#141414" stroke-width="1.8" stroke-linejoin="round"/>
<circle cx="441.5" cy="1409.0" r="30.8" fill="#fbfbfb" stroke="#141414" stroke-width="2.6"/>
<circle cx="441.0" cy="1387.4" r="9.3" fill="#fdfdfd" stroke="#141414" stroke-width="2.7"/>
<circle cx="459.0" cy="1397.8" r="9.3" fill="#fdfdfd" stroke="#141414" stroke-width="2.7"/>
<circle cx="459.0" cy="1418.6" r="9.3" fill="#fdfdfd" stroke="#141414" stroke-width="2.7"/>
<circle cx="441.0" cy="1429.0" r="9.3" fill="#fdfdfd" stroke="#141414" stroke-width="2.7"/>
<circle cx="423.0" cy="1418.6" r="9.3" fill="#fdfdfd" stroke="#141414" stroke-width="2.7"/>
<circle cx="423.0" cy="1397.8" r="9.3" fill="#fdfdfd" stroke="#141414" stroke-width="2.7"/>
<path d="M541.9000000000001,1365.0 L533.4000000000001,1379.5 L550.4000000000001,1379.5 Z" fill="#141414" stroke="#141414" stroke-width="1.5" stroke-linejoin="round"/>
<circle cx="543.7" cy="1408.5" r="30.8" fill="#fbfbfb" stroke="#141414" stroke-width="2.6"/>
<circle cx="543.2" cy="1386.9" r="9.3" fill="#fdfdfd" stroke="#141414" stroke-width="2.7"/>
<circle cx="561.2" cy="1397.3" r="9.3" fill="#fdfdfd" stroke="#141414" stroke-width="2.7"/>
<circle cx="561.2" cy="1418.1" r="9.3" fill="#fdfdfd" stroke="#141414" stroke-width="2.7"/>
<circle cx="543.2" cy="1428.5" r="9.3" fill="#fdfdfd" stroke="#141414" stroke-width="2.7"/>
<circle cx="525.2" cy="1418.1" r="9.3" fill="#fdfdfd" stroke="#141414" stroke-width="2.7"/>
<circle cx="525.2" cy="1397.3" r="9.3" fill="#fdfdfd" stroke="#141414" stroke-width="2.7"/>
<rect x="1113.5" y="1197.0" width="120.5" height="69.5" rx="0" fill="#fafafa" stroke="#141414" stroke-width="3.9"/>
<polyline points="1234.0,1217.5 1251.0,1217.5 1251.0,1243.5 1234.0,1243.5" fill="none" stroke="#141414" stroke-width="3.2" stroke-linecap="butt" stroke-linejoin="miter" />
<rect x="1112.5" y="1327.0" width="121.5" height="89.5" rx="0" fill="#fafafa" stroke="#141414" stroke-width="3.9"/>
<line x1="1132.0" y1="1327.0" x2="1132.0" y2="1416.5" stroke="#141414" stroke-width="4.6" stroke-linecap="butt"/>
<line x1="1171.0" y1="1327.0" x2="1171.0" y2="1416.5" stroke="#141414" stroke-width="3.6" stroke-linecap="butt"/>
<line x1="1132.0" y1="1333.6" x2="1171.0" y2="1333.6" stroke="#141414" stroke-width="2" stroke-linecap="butt"/>
<line x1="1132.0" y1="1344.3" x2="1171.0" y2="1344.3" stroke="#141414" stroke-width="2" stroke-linecap="butt"/>
<line x1="1132.0" y1="1356.0" x2="1171.0" y2="1356.0" stroke="#141414" stroke-width="2" stroke-linecap="butt"/>
<line x1="1132.0" y1="1366.6" x2="1171.0" y2="1366.6" stroke="#141414" stroke-width="2" stroke-linecap="butt"/>
<line x1="1132.0" y1="1376.4" x2="1171.0" y2="1376.4" stroke="#141414" stroke-width="2" stroke-linecap="butt"/>
<line x1="1132.0" y1="1387.0" x2="1171.0" y2="1387.0" stroke="#141414" stroke-width="2" stroke-linecap="butt"/>
<line x1="1132.0" y1="1397.0" x2="1171.0" y2="1397.0" stroke="#141414" stroke-width="2" stroke-linecap="butt"/>
<line x1="1132.0" y1="1407.7" x2="1171.0" y2="1407.7" stroke="#141414" stroke-width="2" stroke-linecap="butt"/>
<polyline points="1234.0,1355.0 1251.5,1355.0 1251.5,1385.5 1234.0,1385.5" fill="none" stroke="#141414" stroke-width="3.2" stroke-linecap="butt" stroke-linejoin="miter" />
<path d="M1055.6,1221.8 L1026.8,1221.8 L1026.8,1242 L1055.6,1242" fill="#fdfdfd" stroke="#141414" stroke-width="2.9" stroke-linejoin="round"/>
<ellipse cx="1055.4" cy="1231.9" rx="2.7" ry="10.1" fill="#fdfdfd" stroke="#141414" stroke-width="2.4"/>
<path d="M1075.6,1225.5 L1080.5,1220.9 L1083.6,1223 L1083.6,1238.6 L1080.5,1241.2 L1075.6,1236 Z" fill="#fdfdfd" stroke="#141414" stroke-width="2.6" stroke-linejoin="round"/>
<line x1="1080.0" y1="1222.5" x2="1080.0" y2="1239.8" stroke="#141414" stroke-width="1.8" stroke-linecap="butt"/>
<line x1="1083.6" y1="1224.8" x2="1088.0" y2="1224.8" stroke="#141414" stroke-width="2.4" stroke-linecap="butt"/>
<line x1="1083.6" y1="1237.0" x2="1088.0" y2="1237.0" stroke="#141414" stroke-width="2.4" stroke-linecap="butt"/>
<rect x="1087.9" y="1220.6" width="21.4" height="20.7" rx="3" fill="#fdfdfd" stroke="#141414" stroke-width="3.0"/>
<path d="M1025,1341 L1033,1341 L1033,1336 L1056,1336 L1056,1358.5 L1033,1358.5 L1033,1353.5 L1025,1353.5 Z" fill="#fdfdfd" stroke="#141414" stroke-width="2.7" stroke-linejoin="round"/>
<path d="M1071.5,1337 L1091.5,1337 L1091.5,1332 L1098.5,1332 L1098.5,1337 L1105,1337 L1105,1356 L1098.5,1356 L1098.5,1361 L1091.5,1361 L1091.5,1356 L1071.5,1356 Z" fill="#fdfdfd" stroke="#141414" stroke-width="2.7" stroke-linejoin="round"/>
<line x1="1098.5" y1="1337.0" x2="1098.5" y2="1356.0" stroke="#141414" stroke-width="2.0" stroke-linecap="butt"/>
<path d="M1026,1388 L1034,1388 L1034,1383 L1058,1383 L1058,1406.5 L1034,1406.5 L1034,1401.5 L1026,1401.5 Z" fill="#fdfdfd" stroke="#141414" stroke-width="2.7" stroke-linejoin="round"/>
<path d="M1073,1387 L1093,1387 L1093,1382 L1100,1382 L1100,1387 L1107,1387 L1107,1404.5 L1100,1404.5 L1100,1409.5 L1093,1409.5 L1093,1404.5 L1073,1404.5 Z" fill="#fdfdfd" stroke="#141414" stroke-width="2.7" stroke-linejoin="round"/>
<line x1="1100.0" y1="1387.0" x2="1100.0" y2="1404.5" stroke="#141414" stroke-width="2.0" stroke-linecap="butt"/>
<rect x="1201.0" y="1001.5" width="41.0" height="39.5" rx="0" fill="#fdfdfd" stroke="#141414" stroke-width="2.8"/>
<line x1="1221.5" y1="1001.5" x2="1221.5" y2="1041.0" stroke="#141414" stroke-width="2.8" stroke-linecap="butt"/>
<line x1="1201.0" y1="1020.5" x2="1242.0" y2="1020.5" stroke="#141414" stroke-width="2.8" stroke-linecap="butt"/>
<polyline points="1242.0,1001.5 1248.0,1001.5 1248.0,1041.0 1242.0,1041.0" fill="none" stroke="#141414" stroke-width="2" stroke-linecap="butt" stroke-linejoin="miter" />
<rect x="1272.5" y="1002.5" width="40.5" height="40.0" rx="0" fill="#fdfdfd" stroke="#141414" stroke-width="2.8"/>
<line x1="1291.5" y1="1002.5" x2="1291.5" y2="1042.5" stroke="#141414" stroke-width="2.8" stroke-linecap="butt"/>
<line x1="1272.5" y1="1022.5" x2="1313.0" y2="1022.5" stroke="#141414" stroke-width="2.8" stroke-linecap="butt"/>
<rect x="1267.5" y="1001.5" width="6" height="42" fill="#141414"/>
<rect x="1061.5" y="1087.0" width="19.5" height="18.0" rx="0" fill="#fdfdfd" stroke="#141414" stroke-width="2.6"/>
<circle cx="1071.5" cy="1116.0" r="9" fill="none" stroke="#141414" stroke-width="2.8"/>
<circle cx="1071.5" cy="1116.0" r="4.2" fill="none" stroke="#141414" stroke-width="2.7"/>
<rect x="1402.0" y="952.0" width="93.0" height="78.5" rx="0" fill="#fdfdfd" stroke="#141414" stroke-width="3.9"/>
<line x1="1446.0" y1="952.0" x2="1446.0" y2="1030.5" stroke="#141414" stroke-width="2.6" stroke-linecap="butt"/>
<line x1="1402.0" y1="978.0" x2="1495.0" y2="978.0" stroke="#141414" stroke-width="2.8" stroke-linecap="butt"/>
<line x1="1402.0" y1="1005.0" x2="1495.0" y2="1005.0" stroke="#141414" stroke-width="2.8" stroke-linecap="butt"/>
<text x="1412.5" y="971.5" font-size="16" fill="#141414" font-weight="bold" textLength="26.5" lengthAdjust="spacing">ON</text>
<text x="1452.5" y="971.5" font-size="16" fill="#141414" font-weight="bold" textLength="36.5" lengthAdjust="spacing">OFF</text>
<line x1="1425.0" y1="991.0" x2="1425.0" y2="1017.5" stroke="#141414" stroke-width="2.8" stroke-linecap="butt"/>
<circle cx="1473.0" cy="1109.5" r="16.7" fill="#fdfdfd" stroke="#141414" stroke-width="3.7"/>
<path d="M1466.5,1101.2 Q1478.5,1098.5 1479.3,1108 Q1480.3,1119.5 1474,1120 Q1470,1120 1467,1118.6" fill="none" stroke="#141414" stroke-width="3.2" stroke-linecap="round"/>
<ellipse cx="1473.3" cy="1109.8" rx="4.3" ry="2.6" fill="none" stroke="#141414" stroke-width="3.5"/>
<polygon points="1156.2,805.4 1184.8,810.0 1177.5,815.8 1195.8,828.8 1190.0,833.0 1169.2,820.0 1157.1,825.8" fill="#141414" stroke="#141414" stroke-width="1.2" stroke-linejoin="round"/>
<text x="1110.5" y="800.0" font-size="23" fill="#141414" font-weight="bold" textLength="61.0" lengthAdjust="spacing">Front</text>
<text x="1312.0" y="800.0" font-size="15.5" fill="#141414" font-weight="bold" textLength="25.5" lengthAdjust="spacing">ON</text>
<text x="1341.5" y="828.0" font-size="15.5" fill="#141414" font-weight="bold" textLength="34.5" lengthAdjust="spacing">OFF</text>
<path d="M1278.9,804.2 L1311.0,801.6 L1307.7,808.2 Q1317.5,810.8 1324.7,817.3 L1312.3,826.5 Q1301.8,819.3 1288.7,820.6 Q1282.8,821.9 1278.2,826.1 Z" fill="#141414" stroke="none" stroke-width="0" />
<path d="M1328.6,822.6 Q1339.1,830.4 1345.3,839.6 L1354.2,835.7 L1348.9,860.5 L1322.1,854.0 L1330.6,847.1 Q1325.4,838.3 1316.9,831.1 Z" fill="#141414" stroke="none" stroke-width="0" />
<polygon points="1194.4,871.0 1209.5,862.5 1248.1,841.6 1344.4,895.2 1344.4,902.4 1293.9,935.8 1195.1,877.6" fill="#fdfdfd" stroke="none" stroke-width="0" stroke-linejoin="round"/>
<polyline points="1209.5,862.5 1194.4,871.0 1295.2,925.4 1344.4,895.2 1324.1,883.5" fill="none" stroke="#141414" stroke-width="3.9" stroke-linecap="round" stroke-linejoin="round" />
<polyline points="1194.4,871.0 1195.1,877.6 1293.9,935.8 1344.4,902.4 1344.4,895.2" fill="none" stroke="#141414" stroke-width="3.9" stroke-linecap="round" stroke-linejoin="round" />
<line x1="1295.2" y1="925.4" x2="1293.9" y2="935.8" stroke="#141414" stroke-width="3.9" stroke-linecap="butt"/>
<polygon points="1216.0,857.3 1248.1,838.3 1317.5,874.3 1318.8,891.3 1288.7,912.3 1215.4,870.4" fill="#fdfdfd" stroke="#141414" stroke-width="4.3" stroke-linejoin="round"/>
<polyline points="1216.0,857.3 1258.6,881.1 1288.7,892.0 1317.5,874.3" fill="none" stroke="#141414" stroke-width="3.9" stroke-linecap="round" stroke-linejoin="round" />
<line x1="1288.7" y1="892.0" x2="1288.7" y2="912.3" stroke="#141414" stroke-width="3.9" stroke-linecap="butt"/>
<polyline points="1220.6,860.9 1258.6,882.8" fill="none" stroke="#141414" stroke-width="1.6" stroke-linecap="butt" stroke-linejoin="miter" />
<g stroke="#141414" stroke-width="5" stroke-dasharray="3 1.6" fill="none">
<line x1="1262.5" y1="874.9" x2="1291.3" y2="865.1"/>
<line x1="1277.6" y1="884.8" x2="1307.7" y2="874.6"/>
</g>
<polygon points="1328.0,919.5 1355.5,924.1 1347.0,930.6 1392.5,958.5 1391.0,962.0 1340.4,935.8 1332.6,941.7" fill="#141414" stroke="none" stroke-width="0" stroke-linejoin="round"/>
<polyline points="270.0,400.5 342.0,400.5 342.0,345.0 378.0,345.0" fill="none" stroke="#ee1426" stroke-width="5" stroke-linecap="butt" stroke-linejoin="miter" />
<circle cx="342.0" cy="400.5" r="5.2" fill="#ee1426"/>
<circle cx="378.0" cy="345.0" r="5.2" fill="#ee1426"/>
<circle cx="447.5" cy="344.5" r="5.2" fill="#ee1426"/>
<polyline points="447.5,344.5 485.0,344.5" fill="none" stroke="#ee1426" stroke-width="5" stroke-linecap="butt" stroke-linejoin="miter" />
<polyline points="518.0,344.5 552.0,344.5" fill="none" stroke="#ee1426" stroke-width="5" stroke-linecap="butt" stroke-linejoin="miter" />
<circle cx="552.5" cy="344.5" r="5.2" fill="#ee1426"/>
<circle cx="627.0" cy="343.0" r="5.2" fill="#ee1426"/>
<polyline points="627.0,343.0 671.0,343.0" fill="none" stroke="#ee1426" stroke-width="5" stroke-linecap="butt" stroke-linejoin="miter" />
<polyline points="695.0,342.5 795.0,342.5 795.0,591.5 377.0,591.5" fill="none" stroke="#ee1426" stroke-width="5.4" stroke-linecap="butt" stroke-linejoin="miter" />
<polyline points="353.0,591.5 296.5,591.5 296.5,614.0" fill="none" stroke="#ee1426" stroke-width="5" stroke-linecap="butt" stroke-linejoin="miter" />
<circle cx="296.5" cy="614.0" r="5.2" fill="#ee1426"/>
<circle cx="315.5" cy="634.5" r="5.2" fill="#ee1426"/>
<polyline points="315.5,634.5 340.0,634.5" fill="none" stroke="#ee1426" stroke-width="5" stroke-linecap="butt" stroke-linejoin="miter" />
<polyline points="381.0,634.5 842.0,634.5 842.0,665.5 878.0,665.5 878.0,689.0" fill="none" stroke="#ee1426" stroke-width="5.4" stroke-linecap="butt" stroke-linejoin="miter" />
<circle cx="843.0" cy="664.5" r="5.6" fill="#ee1426"/>
<polyline points="878.0,730.0 878.0,746.0" fill="none" stroke="#ee1426" stroke-width="5.4" stroke-linecap="butt" stroke-linejoin="miter" />
<polyline points="878.0,772.0 878.0,797.0" fill="none" stroke="#ee1426" stroke-width="5.4" stroke-linecap="butt" stroke-linejoin="miter" />
<polyline points="878.0,871.0 878.0,893.0" fill="none" stroke="#ee1426" stroke-width="5.4" stroke-linecap="butt" stroke-linejoin="miter" />
<polyline points="878.0,922.5 878.0,929.5" fill="none" stroke="#ee1426" stroke-width="5.4" stroke-linecap="butt" stroke-linejoin="miter" />
<polyline points="878.0,971.0 878.0,1006.7 128.0,1006.7 128.0,1202.0 296.0,1202.0" fill="none" stroke="#ee1426" stroke-width="5.4" stroke-linecap="butt" stroke-linejoin="miter" />
<path d="M155,1192.5 A9.5,9.5 0 0 1 155,1211.5" fill="none" stroke="#ee1426" stroke-width="2.8" />
<polyline points="368.0,1202.0 458.0,1202.0 458.0,1164.0" fill="none" stroke="#ee1426" stroke-width="5" stroke-linecap="butt" stroke-linejoin="miter" />
<circle cx="455.5" cy="1164.0" r="5.2" fill="#ee1426"/>
<circle cx="526.0" cy="1166.0" r="5.2" fill="#ee1426"/>
<polyline points="526.0,1166.0 526.0,1200.0 612.5,1200.0" fill="none" stroke="#ee1426" stroke-width="5" stroke-linecap="butt" stroke-linejoin="miter" />
<polyline points="686.0,1199.5 822.5,1199.5 822.5,1297.0 926.0,1297.0" fill="none" stroke="#ee1426" stroke-width="5.4" stroke-linecap="butt" stroke-linejoin="miter" />
<polyline points="1001.0,1309.0 1020.0,1346.5 1046.0,1346.5" fill="none" stroke="#ee1426" stroke-width="5" stroke-linecap="butt" stroke-linejoin="miter" />
<circle cx="1046.5" cy="1346.7" r="4.8" fill="#ee1426"/>
<circle cx="1078.6" cy="1347.5" r="4.8" fill="#ee1426"/>
<polyline points="1078.6,1347.5 1121.5,1347.5" fill="none" stroke="#ee1426" stroke-width="5" stroke-linecap="butt" stroke-linejoin="miter" />
<rect x="146.6" y="617" width="5" height="36" rx="1.5" fill="#cf2432" stroke="#7a1a1e" stroke-width="0.9"/>
<circle cx="162.0" cy="620.3" r="5.9" fill="#ee1426"/>
<circle cx="162.0" cy="647.6" r="5.9" fill="#ee1426"/>
<circle cx="246.0" cy="613.7" r="5" fill="#ee1426"/>
<circle cx="223.6" cy="634.7" r="5" fill="#ee1426"/>
<polyline points="162.0,620.0 162.0,597.0 246.0,597.0 246.0,614.0" fill="none" stroke="#ee1426" stroke-width="3" stroke-linecap="butt" stroke-linejoin="miter" />
<polyline points="162.0,647.0 162.0,664.0 197.5,664.0 197.5,634.7 224.0,634.7" fill="none" stroke="#ee1426" stroke-width="3" stroke-linecap="butt" stroke-linejoin="miter" />
<polyline points="842.0,665.5 805.0,665.5 805.0,688.0" fill="none" stroke="#ee96de" stroke-width="5.7" stroke-linecap="butt" stroke-linejoin="miter" />
<polyline points="805.0,727.0 805.0,797.0" fill="none" stroke="#ee96de" stroke-width="5.7" stroke-linecap="butt" stroke-linejoin="miter" />
<polyline points="807.5,871.0 807.5,980.5 942.5,980.5 942.5,532.5 1087.5,532.5" fill="none" stroke="#ee96de" stroke-width="5.7" stroke-linecap="butt" stroke-linejoin="miter" />
<polyline points="1109.0,532.5 1156.0,532.5" fill="none" stroke="#ee96de" stroke-width="5.7" stroke-linecap="butt" stroke-linejoin="miter" />
<circle cx="1156.0" cy="532.5" r="5.2" fill="#ee96de"/>
<circle cx="1289.0" cy="532.5" r="5.2" fill="#ee96de"/>
<polyline points="1289.0,532.5 1342.0,532.5" fill="none" stroke="#ee96de" stroke-width="5.7" stroke-linecap="butt" stroke-linejoin="miter" />
<polyline points="1364.0,533.0 1495.5,533.0 1495.5,722.0 1020.5,722.0 1020.5,1058.0 1148.0,1058.0" fill="none" stroke="#ee96de" stroke-width="6.0" stroke-linecap="butt" stroke-linejoin="miter" />
<polyline points="1171.5,1058.0 1232.0,1058.0 1232.0,1031.0" fill="none" stroke="#ee96de" stroke-width="5.7" stroke-linecap="butt" stroke-linejoin="miter" />
<circle cx="1232.0" cy="1031.0" r="5.2" fill="#ee96de"/>
<circle cx="1305.5" cy="1031.0" r="5.2" fill="#ee96de"/>
<polyline points="1305.5,1031.0 1305.5,1086.2 1467.0,1086.2 1467.0,1101.5" fill="none" stroke="#ee96de" stroke-width="5.7" stroke-linecap="butt" stroke-linejoin="miter" />
<circle cx="1176.0" cy="553.5" r="6" fill="#2a1ee8"/>
<polyline points="1176.0,553.5 1120.0,553.5" fill="none" stroke="#2a1ee8" stroke-width="5.4" stroke-linecap="butt" stroke-linejoin="miter" />
<polyline points="1080.0,553.0 965.0,553.0 965.0,1032.3 155.0,1032.3 155.0,1193.0" fill="none" stroke="#2a1ee8" stroke-width="5.4" stroke-linecap="butt" stroke-linejoin="miter" />
<polyline points="155.0,1211.0 155.0,1395.0 294.0,1395.0" fill="none" stroke="#2a1ee8" stroke-width="5.4" stroke-linecap="butt" stroke-linejoin="miter" />
<polyline points="332.5,1395.5 340.0,1395.5" fill="none" stroke="#2a1ee8" stroke-width="5.4" stroke-linecap="butt" stroke-linejoin="miter" />
<polyline points="367.5,1396.5 422.5,1399.0" fill="none" stroke="#2a1ee8" stroke-width="5.4" stroke-linecap="butt" stroke-linejoin="miter" />
<circle cx="422.5" cy="1399.0" r="5.2" fill="#2a1ee8"/>
<circle cx="560.7" cy="1395.7" r="5.2" fill="#2a1ee8"/>
<polyline points="560.7,1395.5 612.5,1395.0" fill="none" stroke="#2a1ee8" stroke-width="5.4" stroke-linecap="butt" stroke-linejoin="miter" />
<polyline points="685.0,1394.0 936.0,1394.0" fill="none" stroke="#2a1ee8" stroke-width="5.4" stroke-linecap="butt" stroke-linejoin="miter" />
<polyline points="981.0,1394.5 1047.0,1394.5" fill="none" stroke="#2a1ee8" stroke-width="5.4" stroke-linecap="butt" stroke-linejoin="miter" />
<circle cx="1047.0" cy="1394.5" r="5" fill="#2a1ee8"/>
<circle cx="1081.0" cy="1394.8" r="5" fill="#2a1ee8"/>
<polyline points="1081.0,1394.8 1122.0,1394.8" fill="none" stroke="#2a1ee8" stroke-width="5.4" stroke-linecap="butt" stroke-linejoin="miter" />
<circle cx="1270.0" cy="554.0" r="6" fill="#2a1ee8"/>
<polyline points="1270.0,554.0 1332.5,554.0" fill="none" stroke="#2a1ee8" stroke-width="5.4" stroke-linecap="butt" stroke-linejoin="miter" />
<polyline points="1371.0,554.0 1471.0,554.0 1471.0,772.3 1069.0,772.3 1069.0,986.0 1143.0,986.0" fill="none" stroke="#2a1ee8" stroke-width="5.4" stroke-linecap="butt" stroke-linejoin="miter" />
<polyline points="1189.0,987.0 1232.0,987.0 1232.0,1008.5" fill="none" stroke="#2a1ee8" stroke-width="5.4" stroke-linecap="butt" stroke-linejoin="miter" />
<circle cx="1232.0" cy="1008.5" r="5.5" fill="#2a1ee8"/>
<circle cx="1281.0" cy="1010.0" r="5.2" fill="#2a1ee8"/>
<polyline points="1281.0,1010.0 1281.0,989.5 1425.0,989.5" fill="none" stroke="#2a1ee8" stroke-width="5.4" stroke-linecap="butt" stroke-linejoin="miter" />
<circle cx="1425.5" cy="991.0" r="7" fill="#2a1ee8"/>
<circle cx="1175.5" cy="574.5" r="6" fill="#2a7232"/>
<polyline points="1175.5,574.5 1120.0,574.5" fill="none" stroke="#2a7232" stroke-width="5.4" stroke-linecap="butt" stroke-linejoin="miter" />
<polyline points="1081.0,574.0 990.0,574.0 990.0,1056.0 181.0,1056.0 181.0,1431.0 296.0,1431.0" fill="none" stroke="#2a7232" stroke-width="5.4" stroke-linecap="butt" stroke-linejoin="miter" />
<polyline points="332.5,1431.0 340.0,1431.0" fill="none" stroke="#2a7232" stroke-width="5.4" stroke-linecap="butt" stroke-linejoin="miter" />
<polyline points="367.5,1430.5 411.0,1430.5 424.0,1419.0" fill="none" stroke="#2a7232" stroke-width="5.4" stroke-linecap="butt" stroke-linejoin="miter" />
<circle cx="424.0" cy="1419.0" r="5.2" fill="#2a7232"/>
<circle cx="559.8" cy="1416.8" r="5.2" fill="#2a7232"/>
<polyline points="559.8,1416.8 576.0,1431.0 615.0,1431.0" fill="none" stroke="#2a7232" stroke-width="5.4" stroke-linecap="butt" stroke-linejoin="miter" />
<polyline points="685.0,1430.5 792.5,1430.5 792.5,1231.3 932.5,1231.3" fill="none" stroke="#2a7232" stroke-width="5.4" stroke-linecap="butt" stroke-linejoin="miter" />
<polyline points="971.0,1232.0 1041.0,1232.0" fill="none" stroke="#2a7232" stroke-width="4.8" stroke-linecap="butt" stroke-linejoin="miter" />
<circle cx="1041.2" cy="1231.9" r="4.5" fill="#2a7232"/>
<circle cx="1097.5" cy="1231.2" r="4.7" fill="#2a7232"/>
<polyline points="1097.5,1231.2 1113.5,1231.2" fill="none" stroke="#2a7232" stroke-width="4.8" stroke-linecap="butt" stroke-linejoin="miter" />
<line x1="1174.0" y1="1266.5" x2="1174.0" y2="1282.0" stroke="#2a7232" stroke-width="5" stroke-linecap="butt"/>
<line x1="1158.5" y1="1283.0" x2="1190.0" y2="1283.0" stroke="#2a7232" stroke-width="4.8" stroke-linecap="butt"/>
<line x1="1165.0" y1="1291.8" x2="1183.0" y2="1291.8" stroke="#2a7232" stroke-width="4.8" stroke-linecap="butt"/>
<line x1="1170.5" y1="1299.8" x2="1178.5" y2="1299.8" stroke="#2a7232" stroke-width="4.8" stroke-linecap="butt"/>
<circle cx="1270.0" cy="575.0" r="6" fill="#2a7232"/>
<polyline points="1270.0,575.0 1332.5,575.0" fill="none" stroke="#2a7232" stroke-width="5.4" stroke-linecap="butt" stroke-linejoin="miter" />
<polyline points="1371.0,575.0 1444.5,575.0 1444.5,749.0 1044.5,749.0 1044.5,1032.5 1143.0,1032.5" fill="none" stroke="#2a7232" stroke-width="5.4" stroke-linecap="butt" stroke-linejoin="miter" />
<polyline points="1181.0,1032.3 1211.5,1032.3" fill="none" stroke="#2a7232" stroke-width="5.4" stroke-linecap="butt" stroke-linejoin="miter" />
<circle cx="1211.5" cy="1032.2" r="5.5" fill="#2a7232"/>
<circle cx="1282.0" cy="1031.5" r="5.2" fill="#2a7232"/>
<polyline points="1282.0,1031.5 1282.0,1133.0 1465.6,1133.0 1465.6,1119.5" fill="none" stroke="#2a7232" stroke-width="5.4" stroke-linecap="butt" stroke-linejoin="miter" />
<circle cx="1210.7" cy="1008.4" r="5.5" fill="#2fa845"/>
<polyline points="1210.7,1008.4 1169.5,1008.4" fill="none" stroke="#2fa845" stroke-width="5.4" stroke-linecap="butt" stroke-linejoin="miter" />
<polyline points="1153.5,1008.4 1070.8,1008.4 1070.8,1093.0" fill="none" stroke="#2fa845" stroke-width="5.4" stroke-linecap="butt" stroke-linejoin="miter" />
<circle cx="1071.0" cy="1093.8" r="5.5" fill="#2fa845"/>
<line x1="1071.5" y1="1125.5" x2="1071.5" y2="1134.0" stroke="#2fa845" stroke-width="4.6" stroke-linecap="butt"/>
<line x1="1055.0" y1="1134.2" x2="1084.0" y2="1134.2" stroke="#2fa845" stroke-width="4.6" stroke-linecap="butt"/>
<line x1="1061.5" y1="1142.8" x2="1078.5" y2="1142.8" stroke="#2fa845" stroke-width="4.6" stroke-linecap="butt"/>
<line x1="1067.0" y1="1150.2" x2="1074.0" y2="1150.2" stroke="#2fa845" stroke-width="4.6" stroke-linecap="butt"/>
<circle cx="1304.0" cy="1013.8" r="5.2" fill="#2fa845"/>
<polyline points="1304.0,1013.8 1425.0,1017.5" fill="none" stroke="#2fa845" stroke-width="5.4" stroke-linecap="butt" stroke-linejoin="miter" />
<circle cx="1425.0" cy="1017.5" r="7" fill="#2fa845"/>
<line x1="852.0" y1="1227.0" x2="852.0" y2="1236.0" stroke="#141414" stroke-width="2.7" stroke-linecap="butt"/>
<line x1="1425.3" y1="998.0" x2="1425.3" y2="1011.0" stroke="#141414" stroke-width="2.8" stroke-linecap="butt"/>
<text x="492.5" y="351.5" font-size="19.8" fill="#141414" font-weight="bold" textLength="21.5" lengthAdjust="spacingAndGlyphs">Br</text>
<text x="494.5" y="387.5" font-size="19.8" fill="#141414" font-weight="bold" textLength="12.0" lengthAdjust="spacingAndGlyphs">B</text>
<text x="493.0" y="423.5" font-size="19.8" fill="#141414" font-weight="bold" textLength="15.0" lengthAdjust="spacingAndGlyphs">G</text>
<text x="672.0" y="350.0" font-size="19.8" fill="#141414" font-weight="bold" textLength="19.0" lengthAdjust="spacingAndGlyphs">W</text>
<text x="673.0" y="386.0" font-size="19.8" fill="#141414" font-weight="bold" textLength="18.0" lengthAdjust="spacingAndGlyphs">W</text>
<text x="1027.5" y="351.0" font-size="19.8" fill="#141414" font-weight="bold" textLength="19.0" lengthAdjust="spacingAndGlyphs">W</text>
<text x="1019.5" y="396.5" font-size="19.8" fill="#141414" font-weight="bold" textLength="31.0" lengthAdjust="spacingAndGlyphs">BW</text>
<text x="357.5" y="598.0" font-size="18.5" fill="#141414" font-weight="bold" textLength="18.5" lengthAdjust="spacingAndGlyphs">W</text>
<text x="346.0" y="621.0" font-size="18.5" fill="#141414" font-weight="bold" textLength="32.0" lengthAdjust="spacingAndGlyphs">BW</text>
<text x="346.0" y="641.0" font-size="18.5" fill="#141414" font-weight="bold" textLength="32.0" lengthAdjust="spacingAndGlyphs">WB</text>
<text x="359.0" y="661.0" font-size="18.5" fill="#141414" font-weight="bold" textLength="12.5" lengthAdjust="spacingAndGlyphs">B</text>
<text x="1091.0" y="539.5" font-size="19.8" fill="#141414" font-weight="bold" textLength="15.5" lengthAdjust="spacingAndGlyphs">G</text>
<text x="1086.0" y="560.5" font-size="19.8" fill="#141414" font-weight="bold" textLength="30.5" lengthAdjust="spacingAndGlyphs">YG</text>
<text x="1085.0" y="581.5" font-size="19.8" fill="#141414" font-weight="bold" textLength="31.5" lengthAdjust="spacingAndGlyphs">YR</text>
<text x="1346.0" y="540.0" font-size="19.8" fill="#141414" font-weight="bold" textLength="15.5" lengthAdjust="spacingAndGlyphs">G</text>
<text x="1336.0" y="561.5" font-size="19.8" fill="#141414" font-weight="bold" textLength="31.0" lengthAdjust="spacingAndGlyphs">YG</text>
<text x="1337.0" y="582.5" font-size="19.8" fill="#141414" font-weight="bold" textLength="30.0" lengthAdjust="spacingAndGlyphs">YR</text>
<text x="805.7" y="709.0" font-size="22.5" font-weight="bold" fill="#141414" text-anchor="middle" textLength="33" lengthAdjust="spacingAndGlyphs" transform="rotate(-90 805.7 709.0) translate(0 7.9)">WB</text>
<text x="878.7" y="709.0" font-size="22.5" font-weight="bold" fill="#141414" text-anchor="middle" textLength="33" lengthAdjust="spacingAndGlyphs" transform="rotate(-90 878.7 709.0) translate(0 7.9)">WB</text>
<text x="878.7" y="949.5" font-size="22.5" font-weight="bold" fill="#141414" text-anchor="middle" textLength="33" lengthAdjust="spacingAndGlyphs" transform="rotate(-90 878.7 949.5) translate(0 7.9)">WB</text>
<circle cx="878.5" cy="759.0" r="12.8" fill="#fdfdfd" stroke="#141414" stroke-width="3.0"/>
<text x="878.5" y="765.7" font-size="19" font-weight="bold" fill="#141414" text-anchor="middle" transform="rotate(-90 878.5 759.0)">D</text>
<circle cx="878.0" cy="906.0" r="12.8" fill="#fdfdfd" stroke="#141414" stroke-width="3.0"/>
<text x="878.0" y="912.7" font-size="19" font-weight="bold" fill="#141414" text-anchor="middle" transform="rotate(-90 878.0 906.0)">D</text>
<text x="736.0" y="988.5" font-size="19.8" fill="#141414" font-weight="bold" textLength="14.0" lengthAdjust="spacingAndGlyphs">G</text>
<circle cx="772.0" cy="981.0" r="12.8" fill="#fdfdfd" stroke="#141414" stroke-width="3.0"/>
<text x="772.0" y="987.7" font-size="19" fill="#141414" font-weight="bold" text-anchor="middle">G</text>
<text x="314.0" y="1105.0" font-size="19.8" fill="#141414" font-weight="bold" textLength="14.5" lengthAdjust="spacingAndGlyphs">G</text>
<circle cx="354.0" cy="1097.5" r="12.8" fill="#fdfdfd" stroke="#141414" stroke-width="3.0"/>
<text x="354.0" y="1104.2" font-size="19" fill="#141414" font-weight="bold" text-anchor="middle">G</text>
<text x="299.0" y="1210.0" font-size="19.8" fill="#141414" font-weight="bold" textLength="32.5" lengthAdjust="spacingAndGlyphs">WB</text>
<circle cx="354.0" cy="1202.0" r="12.8" fill="#fdfdfd" stroke="#141414" stroke-width="3.0"/>
<text x="354.0" y="1208.7" font-size="19" fill="#141414" font-weight="bold" text-anchor="middle">D</text>
<text x="297.5" y="1281.5" font-size="19.8" fill="#141414" font-weight="bold" textLength="30.0" lengthAdjust="spacingAndGlyphs">YR</text>
<circle cx="354.0" cy="1275.0" r="12.8" fill="#fdfdfd" stroke="#141414" stroke-width="3.0"/>
<text x="354.0" y="1281.7" font-size="19" fill="#141414" font-weight="bold" text-anchor="middle">G</text>
<text x="298.5" y="1338.0" font-size="19.8" fill="#141414" font-weight="bold" textLength="31.5" lengthAdjust="spacingAndGlyphs">YG</text>
<circle cx="354.0" cy="1330.0" r="12.8" fill="#fdfdfd" stroke="#141414" stroke-width="3.0"/>
<text x="354.0" y="1336.7" font-size="19" fill="#141414" font-weight="bold" text-anchor="middle">G</text>
<text x="297.5" y="1401.5" font-size="19.8" fill="#141414" font-weight="bold" textLength="31.5" lengthAdjust="spacingAndGlyphs">YG</text>
<circle cx="354.0" cy="1396.0" r="12.8" fill="#fdfdfd" stroke="#141414" stroke-width="3.0"/>
<text x="354.0" y="1402.7" font-size="19" fill="#141414" font-weight="bold" text-anchor="middle">D</text>
<text x="297.5" y="1438.0" font-size="19.8" fill="#141414" font-weight="bold" textLength="30.0" lengthAdjust="spacingAndGlyphs">YR</text>
<circle cx="354.0" cy="1431.0" r="12.8" fill="#fdfdfd" stroke="#141414" stroke-width="3.0"/>
<text x="354.0" y="1437.7" font-size="19" fill="#141414" font-weight="bold" text-anchor="middle">D</text>
<text x="631.0" y="1103.0" font-size="19.8" fill="#141414" font-weight="bold" textLength="15.0" lengthAdjust="spacingAndGlyphs">G</text>
<circle cx="672.5" cy="1097.5" r="12.8" fill="#fdfdfd" stroke="#141414" stroke-width="3.0"/>
<text x="672.5" y="1104.2" font-size="19" fill="#141414" font-weight="bold" text-anchor="middle">G</text>
<text x="616.0" y="1207.0" font-size="19.8" fill="#141414" font-weight="bold" textLength="33.0" lengthAdjust="spacingAndGlyphs">WB</text>
<circle cx="672.5" cy="1200.0" r="12.8" fill="#fdfdfd" stroke="#141414" stroke-width="3.0"/>
<text x="672.5" y="1206.7" font-size="19" fill="#141414" font-weight="bold" text-anchor="middle">D</text>
<text x="615.0" y="1280.5" font-size="19.8" fill="#141414" font-weight="bold" textLength="31.0" lengthAdjust="spacingAndGlyphs">YR</text>
<circle cx="671.0" cy="1273.6" r="12.8" fill="#fdfdfd" stroke="#141414" stroke-width="3.0"/>
<text x="671.0" y="1280.3" font-size="19" fill="#141414" font-weight="bold" text-anchor="middle">G</text>
<text x="618.5" y="1337.0" font-size="19.8" fill="#141414" font-weight="bold" textLength="31.0" lengthAdjust="spacingAndGlyphs">YG</text>
<circle cx="671.0" cy="1329.0" r="12.8" fill="#fdfdfd" stroke="#141414" stroke-width="3.0"/>
<text x="671.0" y="1335.7" font-size="19" fill="#141414" font-weight="bold" text-anchor="middle">G</text>
<text x="618.5" y="1402.0" font-size="19.8" fill="#141414" font-weight="bold" textLength="31.0" lengthAdjust="spacingAndGlyphs">YG</text>
<circle cx="671.0" cy="1395.0" r="12.8" fill="#fdfdfd" stroke="#141414" stroke-width="3.0"/>
<text x="671.0" y="1401.7" font-size="19" fill="#141414" font-weight="bold" text-anchor="middle">D</text>
<text x="617.0" y="1437.5" font-size="19.8" fill="#141414" font-weight="bold" textLength="30.5" lengthAdjust="spacingAndGlyphs">YR</text>
<circle cx="671.0" cy="1431.0" r="12.8" fill="#fdfdfd" stroke="#141414" stroke-width="3.0"/>
<text x="671.0" y="1437.7" font-size="19" fill="#141414" font-weight="bold" text-anchor="middle">D</text>
<text x="490.0" y="1229.0" font-size="23.5" fill="#141414" font-weight="bold" textLength="170.0" lengthAdjust="spacing">ENGINE NO. 2</text>
<text x="490.0" y="1252.5" font-size="23.5" fill="#141414" font-weight="bold" textLength="117.5" lengthAdjust="spacing">HARNESS</text>
<text x="936.0" y="1238.5" font-size="19.8" fill="#141414" font-weight="bold" textLength="30.5" lengthAdjust="spacingAndGlyphs">YR</text>
<text x="935.0" y="1306.5" font-size="19.8" fill="#141414" font-weight="bold" textLength="31.5" lengthAdjust="spacingAndGlyphs">WB</text>
<circle cx="990.0" cy="1300.0" r="12.8" fill="#fdfdfd" stroke="#141414" stroke-width="3.0"/>
<text x="990.0" y="1306.7" font-size="19" fill="#141414" font-weight="bold" text-anchor="middle">D</text>
<text x="947.5" y="1354.0" font-size="19.8" fill="#141414" font-weight="bold" textLength="15.0" lengthAdjust="spacingAndGlyphs">G</text>
<circle cx="991.0" cy="1347.5" r="12.8" fill="#fdfdfd" stroke="#141414" stroke-width="3.0"/>
<text x="991.0" y="1354.2" font-size="19" fill="#141414" font-weight="bold" text-anchor="middle">G</text>
<text x="945.0" y="1401.5" font-size="19.8" fill="#141414" font-weight="bold" textLength="30.5" lengthAdjust="spacingAndGlyphs">YG</text>
<text x="1149.0" y="992.5" font-size="19.8" fill="#141414" font-weight="bold" textLength="30.0" lengthAdjust="spacingAndGlyphs">YG</text>
<text x="1155.5" y="1015.0" font-size="19.8" fill="#141414" font-weight="bold" textLength="12.0" lengthAdjust="spacingAndGlyphs">B</text>
<text x="1146.0" y="1039.0" font-size="19.8" fill="#141414" font-weight="bold" textLength="31.0" lengthAdjust="spacingAndGlyphs">YR</text>
<text x="1152.5" y="1066.0" font-size="19.8" fill="#141414" font-weight="bold" textLength="15.5" lengthAdjust="spacingAndGlyphs">G</text>
<text x="1505.0" y="974.5" font-size="23.3" fill="#141414" textLength="48.0" lengthAdjust="spacing" stroke="#141414" stroke-width="1.3">O.D.</text>
<text x="1505.0" y="1002.5" font-size="23.3" fill="#141414" textLength="100.0" lengthAdjust="spacing" stroke="#141414" stroke-width="1.3">CANCEL</text>
<text x="1505.0" y="1030.5" font-size="23.3" fill="#141414" textLength="93.0" lengthAdjust="spacing" stroke="#141414" stroke-width="1.3">SWITCH</text>
<text x="1416.0" y="1159.0" font-size="23.3" fill="#141414" textLength="201.5" lengthAdjust="spacing" stroke="#141414" stroke-width="1.3">O.D. INDICATOR</text>
<text x="1416.0" y="1185.0" font-size="23.3" fill="#141414" textLength="67.0" lengthAdjust="spacing" stroke="#141414" stroke-width="1.3">LAMP</text>
<text x="1260.0" y="1230.0" font-size="23.3" fill="#141414" textLength="201.0" lengthAdjust="spacing" stroke="#141414" stroke-width="1.3">O.D. INDICATOR</text>
<text x="1260.0" y="1257.7" font-size="23.3" fill="#141414" textLength="92.5" lengthAdjust="spacing" stroke="#141414" stroke-width="1.3">SWITCH</text>
<text x="1260.0" y="1364.0" font-size="23.3" fill="#141414" textLength="160.0" lengthAdjust="spacing" stroke="#141414" stroke-width="1.3">O.D. CANCEL</text>
<text x="1260.0" y="1393.0" font-size="23.3" fill="#141414" textLength="130.0" lengthAdjust="spacing" stroke="#141414" stroke-width="1.3">SOLENOID</text>
<text x="1365.0" y="1253.0" font-size="18.5" fill="#2418b4" font-weight="bold" textLength="245.0" lengthAdjust="spacingAndGlyphs" stroke="#2418b4" stroke-width="0.3">Closed with no pressure</text>
<text x="1365.0" y="1275.3" font-size="18.5" fill="#2418b4" font-weight="bold" textLength="268.0" lengthAdjust="spacingAndGlyphs" stroke="#2418b4" stroke-width="0.3">(ie closed with engine off)</text>
<circle cx="1155.4" cy="1479.0" r="14.4" fill="#fdfdfd" stroke="#141414" stroke-width="3.0"/>
<text x="1155.4" y="1486.8" font-size="22" fill="#141414" font-weight="bold" text-anchor="middle">G</text>
<circle cx="1155.4" cy="1510.7" r="14.4" fill="#fdfdfd" stroke="#141414" stroke-width="3.0"/>
<text x="1155.4" y="1518.5" font-size="22" fill="#141414" font-weight="bold" text-anchor="middle">D</text>
<text x="1176.5" y="1485.0" font-size="21" fill="#141414" font-weight="bold">:</text>
<text x="1176.5" y="1517.0" font-size="21" fill="#141414" font-weight="bold">:</text>
<text x="1200.0" y="1485.0" font-size="21.5" fill="#141414" textLength="211.0" lengthAdjust="spacingAndGlyphs" letter-spacing="1.0" stroke="#141414" stroke-width="0.9">L24E engine model</text>
<text x="1200.0" y="1517.0" font-size="21.5" fill="#141414" textLength="213.0" lengthAdjust="spacingAndGlyphs" letter-spacing="1.0" stroke="#141414" stroke-width="0.9">LD28 engine model</text>
<text x="1543.0" y="1539.7" font-size="19.5" fill="#141414" font-weight="bold" textLength="90.0" lengthAdjust="spacingAndGlyphs" letter-spacing="1.8">SAT617</text>
<rect x="22.5" y="1552.5" width="615" height="277.5" fill="#f6b21a"/>
<rect x="41" y="1571" width="577" height="240" fill="#fefefe"/>
<text x="181.0" y="1605.5" font-size="35.5" fill="#0a0a0a" font-weight="bold" textLength="161.5" lengthAdjust="spacingAndGlyphs" stroke="#0a0a0a" stroke-width="0.9">LEGEND</text>
<rect x="49" y="1616" width="45.5" height="21.5" fill="#f01822"/>
<rect x="49" y="1643" width="45.5" height="21" fill="#2a1cf0"/>
<rect x="49" y="1670" width="45.5" height="21" fill="#2fa845"/>
<rect x="49" y="1751" width="45.5" height="21" fill="#ee96de"/>
<rect x="49" y="1778" width="45.5" height="22" fill="#2c7434"/>
<text x="106.0" y="1632.5" font-size="21" fill="#cf1a28" font-weight="bold" textLength="384.0" lengthAdjust="spacingAndGlyphs" stroke="#cf1a28" stroke-width="0.55">= 12v+ to OD Cancel Solenoid</text>
<text x="106.0" y="1659.5" font-size="21" fill="#2216b0" font-weight="bold" textLength="506.5" lengthAdjust="spacingAndGlyphs" stroke="#2216b0" stroke-width="0.55">= OD Cancel Solenoid to console switch</text>
<text x="106.0" y="1686.5" font-size="21" fill="#34a04a" font-weight="bold" textLength="486.5" lengthAdjust="spacingAndGlyphs" stroke="#34a04a" stroke-width="0.55">= Ground path for OD Cancel Solenoid</text>
<text x="137.0" y="1714.5" font-size="21" fill="#34a04a" font-weight="bold" textLength="347.0" lengthAdjust="spacingAndGlyphs" stroke="#34a04a" stroke-width="0.55">(console switch to Ground)</text>
<text x="106.0" y="1769.5" font-size="21" fill="#e598d8" font-weight="bold" textLength="373.0" lengthAdjust="spacingAndGlyphs" stroke="#e598d8" stroke-width="0.55">= 12v+ for OD engaged lamp</text>
<text x="106.0" y="1797.0" font-size="21" fill="#2b6e38" font-weight="bold" textLength="464.0" lengthAdjust="spacingAndGlyphs" stroke="#2b6e38" stroke-width="0.55">= Ground path for OD engaged lamp</text>
<text x="32.0" y="1801.0" font-size="29" fill="#2b58a6" textLength="204.0" lengthAdjust="spacing" stroke="#2b58a6" stroke-width="0.5">Pressauto.NET</text>
</svg>
</body></html>
